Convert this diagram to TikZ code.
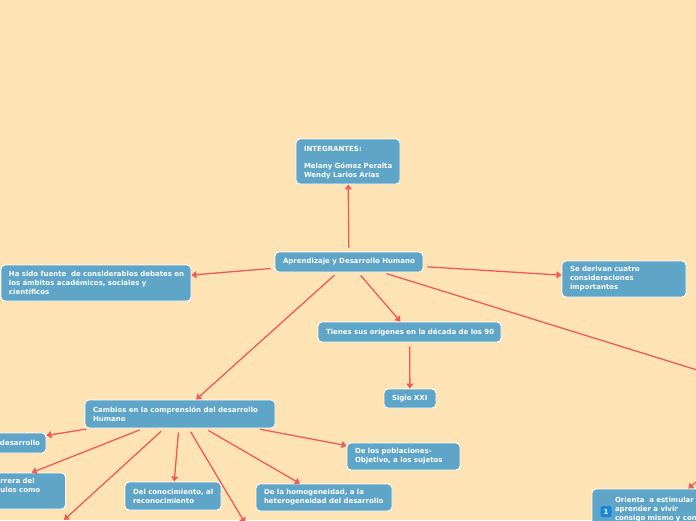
\documentclass[tikz,border=0pt]{standalone}
\usepackage{fontspec}
\setmainfont{DejaVu Sans}
\usetikzlibrary{arrows.meta}
\definecolor{pagebg}{HTML}{FEE3B5}
\definecolor{boxfill}{HTML}{5EA5C8}
\definecolor{linkred}{HTML}{F25A5A}
\definecolor{iconblue}{HTML}{1588DC}
\newcommand{\pad}[1]{\hspace*{#1pt}}
\hfuzz=20pt
\tikzset{
  topic/.style={rectangle,rounded corners=4pt,draw=white,line width=0.9pt,fill=boxfill,
    text=white,align=left,inner xsep=8pt,inner ysep=2pt,text width=#1,
    font=\fontsize{7}{9}\selectfont\bfseries},
  link/.style={draw=linkred,line width=1.3pt,shorten <=4pt,
    -{Triangle[length=5pt,width=7pt]}}
}
\begin{document}
\begin{tikzpicture}[x=1pt,y=-1pt]
\useasboundingbox (0,0) rectangle (696,520);
\clip (0,0) rectangle (696,520);
\fill[pagebg] (0,0) rectangle (696,520);
\node[topic=88pt,minimum height=45pt] (team) at (348,161.5) {\rule{0pt}{8.5pt}INTEGRANTES:\\[8pt]\mbox{Melany Gómez Peralta}\\\mbox{Wendy Larios Arias}};
\node[topic=132pt,minimum height=20pt] (root) at (349,262) {\mbox{Aprendizaje y Desarrollo Humano}};
\node[topic=174pt,minimum height=36pt] (debates) at (96,283) {\mbox{Ha sido fuente\ \ de considerables debates en}\\\mbox{los ámbitos académicos, sociales y}\\científicos};
\node[topic=108pt,minimum height=36pt] (cuatro) at (624,279) {Se derivan cuatro\\consideraciones\\importantes};
\node[topic=167pt,minimum height=20pt] (decada) at (409.5,332) {\mbox{Tienes sus orígenes en la década de los 90}};
\node[topic=36pt,minimum height=19pt] (siglo) at (410,398.5) {\mbox{Siglo XXI}};
\node[topic=174pt,minimum height=28pt] (cambios) at (180,414) {\mbox{Cambios en la comprensión del desarrollo}\\Humano};
\node[topic=76pt,minimum height=20pt] (desarrollo) at (0,443) {\pad{38}\mbox{desarrollo}};
\node[topic=145pt,minimum height=36pt] (carrera) at (-15,491) {\pad{88}rrera del\\\pad{88}ulos como\\\strut};
\node[topic=80pt,minimum height=28pt] (conoc) at (173,496) {\mbox{Del conocimiento, al}\\reconocimiento};
\node[topic=120pt,minimum height=27pt] (homog) at (324,497.5) {\mbox{De la homogeneidad, a la}\\\mbox{heterogeneidad del desarrollo}};
\node[topic=97pt,minimum height=27pt] (pobl) at (403.5,456.5) {\mbox{De los poblaciones-}\\\mbox{Objetivo, a los sujetos}};
\node[topic=112pt,minimum height=52pt,inner xsep=8pt] (orienta) at (656,515) {\pad{15}\mbox{Orienta\ \ a estimular}\\\pad{15}aprender a vivir\\\pad{15}\mbox{consigo mismo y con}\\\strut};
\node[rectangle,rounded corners=1.5pt,fill=iconblue,text=white,minimum width=11pt,minimum height=11pt,inner sep=0pt,font=\fontsize{7}{8}\selectfont\bfseries] (iconone) at (606,511.5) {1};
\coordinate (offright) at (760,389.5);
\coordinate (offupper) at (723,460);
\coordinate (offleft) at (64,520);
\coordinate (offlow) at (245,523);
\draw[link] (root) -- (team);
\draw[link] (root) -- (debates);
\draw[link] (root) -- (cuatro);
\draw[link] (root) -- (decada);
\draw[link] (root) -- (cambios);
\draw[link] (root) -- (offright);
\draw[link] (decada) -- (siglo);
\draw[link] (cambios) -- (desarrollo);
\draw[link] (cambios) -- (carrera);
\draw[link] (cambios) -- (offleft);
\draw[link] (cambios) -- (conoc);
\draw[link] (cambios) -- (offlow);
\draw[link] (cambios) -- (homog);
\draw[link] (cambios) -- (pobl);
\draw[link] (offupper) -- (orienta);
\end{tikzpicture}
\end{document}
